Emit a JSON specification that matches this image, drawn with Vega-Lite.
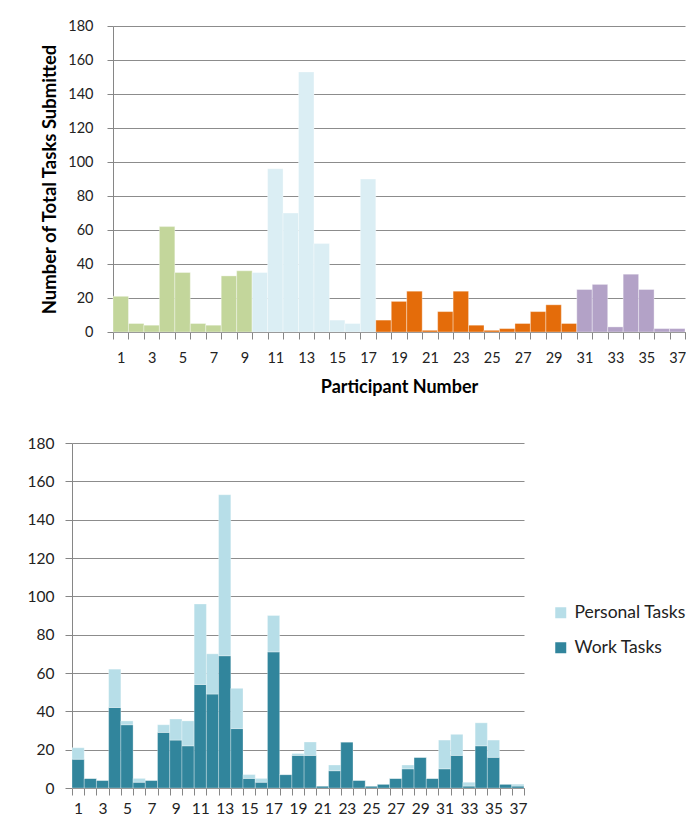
{
  "$schema": "https://vega.github.io/schema/vega-lite/v6.json",
  "background": "white",
  "padding": {"left": 27, "top": 18, "right": 0, "bottom": 0},
  "autosize": {"type": "pad"},
  "config": {
    "font": "Lato",
    "view": {"stroke": null},
    "axis": {
      "labelFont": "Lato",
      "titleFont": "Lato",
      "labelColor": "#222222",
      "titleColor": "#000000",
      "domainColor": "#868686",
      "tickColor": "#868686",
      "gridColor": "#8c8c8c",
      "gridOpacity": 1
    },
    "legend": {"labelFont": "Lato"}
  },
  "datasets": {
    "tasks": [
      {"participant": 1, "group": "A", "type": "Work Tasks", "count": 15},
      {"participant": 1, "group": "A", "type": "Personal Tasks", "count": 6},
      {"participant": 2, "group": "A", "type": "Work Tasks", "count": 5},
      {"participant": 2, "group": "A", "type": "Personal Tasks", "count": 0},
      {"participant": 3, "group": "A", "type": "Work Tasks", "count": 4},
      {"participant": 3, "group": "A", "type": "Personal Tasks", "count": 0},
      {"participant": 4, "group": "A", "type": "Work Tasks", "count": 42},
      {"participant": 4, "group": "A", "type": "Personal Tasks", "count": 20},
      {"participant": 5, "group": "A", "type": "Work Tasks", "count": 33},
      {"participant": 5, "group": "A", "type": "Personal Tasks", "count": 2},
      {"participant": 6, "group": "A", "type": "Work Tasks", "count": 3},
      {"participant": 6, "group": "A", "type": "Personal Tasks", "count": 2},
      {"participant": 7, "group": "A", "type": "Work Tasks", "count": 4},
      {"participant": 7, "group": "A", "type": "Personal Tasks", "count": 0},
      {"participant": 8, "group": "A", "type": "Work Tasks", "count": 29},
      {"participant": 8, "group": "A", "type": "Personal Tasks", "count": 4},
      {"participant": 9, "group": "A", "type": "Work Tasks", "count": 25},
      {"participant": 9, "group": "A", "type": "Personal Tasks", "count": 11},
      {"participant": 10, "group": "B", "type": "Work Tasks", "count": 22},
      {"participant": 10, "group": "B", "type": "Personal Tasks", "count": 13},
      {"participant": 11, "group": "B", "type": "Work Tasks", "count": 54},
      {"participant": 11, "group": "B", "type": "Personal Tasks", "count": 42},
      {"participant": 12, "group": "B", "type": "Work Tasks", "count": 49},
      {"participant": 12, "group": "B", "type": "Personal Tasks", "count": 21},
      {"participant": 13, "group": "B", "type": "Work Tasks", "count": 69},
      {"participant": 13, "group": "B", "type": "Personal Tasks", "count": 84},
      {"participant": 14, "group": "B", "type": "Work Tasks", "count": 31},
      {"participant": 14, "group": "B", "type": "Personal Tasks", "count": 21},
      {"participant": 15, "group": "B", "type": "Work Tasks", "count": 5},
      {"participant": 15, "group": "B", "type": "Personal Tasks", "count": 2},
      {"participant": 16, "group": "B", "type": "Work Tasks", "count": 3},
      {"participant": 16, "group": "B", "type": "Personal Tasks", "count": 2},
      {"participant": 17, "group": "B", "type": "Work Tasks", "count": 71},
      {"participant": 17, "group": "B", "type": "Personal Tasks", "count": 19},
      {"participant": 18, "group": "C", "type": "Work Tasks", "count": 7},
      {"participant": 18, "group": "C", "type": "Personal Tasks", "count": 0},
      {"participant": 19, "group": "C", "type": "Work Tasks", "count": 17},
      {"participant": 19, "group": "C", "type": "Personal Tasks", "count": 1},
      {"participant": 20, "group": "C", "type": "Work Tasks", "count": 17},
      {"participant": 20, "group": "C", "type": "Personal Tasks", "count": 7},
      {"participant": 21, "group": "C", "type": "Work Tasks", "count": 1},
      {"participant": 21, "group": "C", "type": "Personal Tasks", "count": 0},
      {"participant": 22, "group": "C", "type": "Work Tasks", "count": 9},
      {"participant": 22, "group": "C", "type": "Personal Tasks", "count": 3},
      {"participant": 23, "group": "C", "type": "Work Tasks", "count": 24},
      {"participant": 23, "group": "C", "type": "Personal Tasks", "count": 0},
      {"participant": 24, "group": "C", "type": "Work Tasks", "count": 4},
      {"participant": 24, "group": "C", "type": "Personal Tasks", "count": 0},
      {"participant": 25, "group": "C", "type": "Work Tasks", "count": 1},
      {"participant": 25, "group": "C", "type": "Personal Tasks", "count": 0},
      {"participant": 26, "group": "C", "type": "Work Tasks", "count": 2},
      {"participant": 26, "group": "C", "type": "Personal Tasks", "count": 0},
      {"participant": 27, "group": "C", "type": "Work Tasks", "count": 5},
      {"participant": 27, "group": "C", "type": "Personal Tasks", "count": 0},
      {"participant": 28, "group": "C", "type": "Work Tasks", "count": 10},
      {"participant": 28, "group": "C", "type": "Personal Tasks", "count": 2},
      {"participant": 29, "group": "C", "type": "Work Tasks", "count": 16},
      {"participant": 29, "group": "C", "type": "Personal Tasks", "count": 0},
      {"participant": 30, "group": "C", "type": "Work Tasks", "count": 5},
      {"participant": 30, "group": "C", "type": "Personal Tasks", "count": 0},
      {"participant": 31, "group": "D", "type": "Work Tasks", "count": 10},
      {"participant": 31, "group": "D", "type": "Personal Tasks", "count": 15},
      {"participant": 32, "group": "D", "type": "Work Tasks", "count": 17},
      {"participant": 32, "group": "D", "type": "Personal Tasks", "count": 11},
      {"participant": 33, "group": "D", "type": "Work Tasks", "count": 1},
      {"participant": 33, "group": "D", "type": "Personal Tasks", "count": 2},
      {"participant": 34, "group": "D", "type": "Work Tasks", "count": 22},
      {"participant": 34, "group": "D", "type": "Personal Tasks", "count": 12},
      {"participant": 35, "group": "D", "type": "Work Tasks", "count": 16},
      {"participant": 35, "group": "D", "type": "Personal Tasks", "count": 9},
      {"participant": 36, "group": "D", "type": "Work Tasks", "count": 2},
      {"participant": 36, "group": "D", "type": "Personal Tasks", "count": 0},
      {"participant": 37, "group": "D", "type": "Work Tasks", "count": 1},
      {"participant": 37, "group": "D", "type": "Personal Tasks", "count": 1}
    ]
  },
  "spacing": 39,
  "resolve": {"scale": {"color": "independent", "x": "independent", "y": "independent"}},
  "vconcat": [
    {
      "spacing": -33,
      "hconcat": [
        {
          "width": 1,
          "height": 1,
          "data": {"values": []},
          "mark": "point",
          "encoding": {}
        },
        {
          "width": 572,
          "height": 306,
          "data": {"name": "tasks"},
          "mark": {"type": "bar", "stroke": "white", "strokeWidth": 0.5, "strokeOpacity": 0.7},
          "encoding": {
            "x": {
              "field": "participant",
              "type": "ordinal",
              "scale": {"paddingInner": 0, "paddingOuter": 0},
              "axis": {
                "title": "Participant Number",
                "labelAngle": 0,
                "tickBand": "extent",
                "labelExpr": "datum.value % 2 == 1 ? datum.label : ''",
                "grid": false,
                "tickSize": 7,
                "labelPadding": 12,
                "labelFontSize": 14.5,
                "titleFontSize": 18,
                "titleFontWeight": "bold",
                "titlePadding": 14
              }
            },
            "y": {
              "aggregate": "sum",
              "field": "count",
              "type": "quantitative",
              "scale": {"domain": [0, 180], "nice": false},
              "axis": {
                "title": "Number of Total Tasks Submitted",
                "values": [0, 20, 40, 60, 80, 100, 120, 140, 160, 180],
                "tickSize": 6,
                "labelPadding": 14,
                "labelFontSize": 14.5,
                "titleFontSize": 18.5,
                "titleFontWeight": "bold",
                "titlePadding": 8
              }
            },
            "color": {
              "field": "group",
              "type": "nominal",
              "scale": {"domain": ["A", "B", "C", "D"], "range": ["#C3D69B", "#DBEEF4", "#E46C0A", "#B3A2C7"]},
              "legend": null
            }
          }
        }
      ]
    },
    {
      "width": 452,
      "height": 345,
      "data": {"name": "tasks"},
      "mark": {"type": "bar", "stroke": "white", "strokeWidth": 0.5, "strokeOpacity": 0.6},
      "encoding": {
        "x": {
          "field": "participant",
          "type": "ordinal",
          "scale": {"paddingInner": 0, "paddingOuter": 0},
          "axis": {
            "title": null,
            "labelAngle": 0,
            "tickBand": "extent",
            "labelExpr": "datum.value % 2 == 1 ? datum.label : ''",
            "grid": false,
            "tickSize": 7,
            "labelPadding": 6,
            "labelFontSize": 15.5
          }
        },
        "y": {
          "field": "count",
          "type": "quantitative",
          "stack": "zero",
          "scale": {"domain": [0, 180], "nice": false},
          "axis": {
            "title": null,
            "values": [0, 20, 40, 60, 80, 100, 120, 140, 160, 180],
            "tickSize": 7,
            "labelPadding": 11,
            "labelFontSize": 15.5
          }
        },
        "color": {
          "field": "type",
          "type": "nominal",
          "scale": {"domain": ["Personal Tasks", "Work Tasks"], "range": ["#B7DEE8", "#31859C"]},
          "legend": {
            "orient": "none",
            "legendX": 480,
            "legendY": 161,
            "title": null,
            "padding": 0,
            "symbolType": "square",
            "symbolSize": 121,
            "symbolStrokeWidth": 0,
            "labelFontSize": 17.5,
            "labelColor": "#222222",
            "labelOffset": 5,
            "rowPadding": 16
          }
        },
        "order": {"field": "type", "sort": "descending"}
      }
    }
  ]
}
